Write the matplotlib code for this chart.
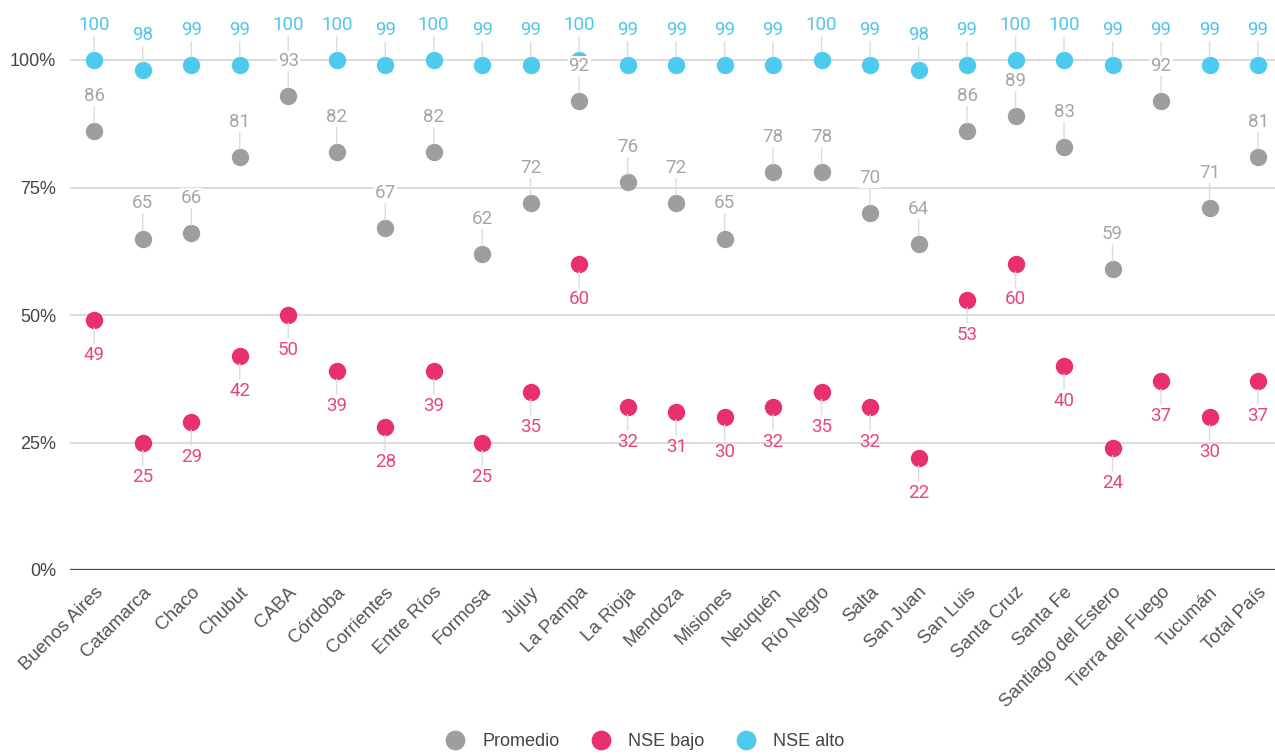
import matplotlib
matplotlib.use('Agg')
import matplotlib.pyplot as plt
from matplotlib.ticker import FuncFormatter

plt.rcParams['font.family'] = ['Liberation Sans', 'DejaVu Sans']

provincias = ['Buenos Aires', 'Catamarca', 'Chaco', 'Chubut', 'CABA', 'Córdoba',
              'Corrientes', 'Entre Ríos', 'Formosa', 'Jujuy', 'La Pampa', 'La Rioja',
              'Mendoza', 'Misiones', 'Neuquén', 'Río Negro', 'Salta', 'San Juan',
              'San Luis', 'Santa Cruz', 'Santa Fe', 'Santiago del Estero',
              'Tierra del Fuego', 'Tucumán', 'Total País']
promedio = [86, 65, 66, 81, 93, 82, 67, 82, 62, 72, 92, 76, 72, 65, 78, 78, 70, 64,
            86, 89, 83, 59, 92, 71, 81]
nse_bajo = [49, 25, 29, 42, 50, 39, 28, 39, 25, 35, 60, 32, 31, 30, 32, 35, 32, 22,
            53, 60, 40, 24, 37, 30, 37]
nse_alto = [100, 98, 99, 99, 100, 100, 99, 100, 99, 99, 100, 99, 99, 99, 99, 100, 99,
            98, 99, 100, 100, 99, 99, 99, 99]
yticks = [0, 25, 50, 75, 100]

c_gris = '#9e9e9e'
c_rosa = '#e8306f'
c_azul = '#4ccbee'

W, H = 1275, 755
fig = plt.figure(figsize=(W / 100, H / 100), dpi=100)
ax = fig.add_axes([70 / W, 1 - 570 / H, 1 - 70 / W, 570 / H])

x = list(range(len(provincias)))
ax.set_xlim(-0.5, len(provincias) - 0.65)
ax.set_ylim(0, 570 / 5.1)

for yt in yticks[1:]:
    ax.axhline(yt, color='#d6d6d6', lw=1.2, zorder=1)
ax.axhline(0, color='#444444', lw=1.6, zorder=2)

ms = 11.5
ax.plot(x, promedio, 'o', color=c_gris, ms=ms, ls='none', zorder=3, label='Promedio')
ax.plot(x, nse_bajo, 'o', color=c_rosa, ms=ms, ls='none', zorder=3, label='NSE bajo')
ax.plot(x, nse_alto, 'o', color=c_azul, ms=ms, ls='none', zorder=3, label='NSE alto')

off = 26 * 72 / 100  # pixels -> points
arrow = dict(arrowstyle='-', color='#dcdcdc', lw=1, shrinkA=0, shrinkB=ms / 2)


def etiquetas(vals, color, arriba, fondo=False):
    for xi, v in zip(x, vals):
        kw = {}
        if fondo:
            kw['bbox'] = dict(boxstyle='square,pad=0.05', fc='white', ec='none')
        ax.annotate(str(v), xy=(xi, v), xytext=(0, off if arriba else -off),
                    textcoords='offset points', ha='center',
                    va='bottom' if arriba else 'top', fontsize=13.5, color=color,
                    family=['Roboto', 'DejaVu Sans'],
                    arrowprops=arrow, zorder=5, **kw)


etiquetas(nse_alto, '#52c6ec', True)
etiquetas(promedio, '#a6a6a6', True, fondo=True)
etiquetas(nse_bajo, '#e8457f', False)

ax.set_yticks(yticks)
ax.yaxis.set_major_formatter(FuncFormatter(lambda v, p: '%d%%' % v))
ax.set_xticks(x)
ax.set_xticklabels(provincias, rotation=45, ha='right', rotation_mode='anchor')
ax.tick_params(axis='both', length=0, colors='#444444')
ax.tick_params(axis='x', pad=10, labelsize=13.5, colors='#555555')
ax.tick_params(axis='y', pad=10, labelsize=13)
for s in ax.spines.values():
    s.set_visible(False)

fig.legend(loc='center', bbox_to_anchor=(641 / W, 1 - 742 / H), ncol=3, frameon=False,
           fontsize=13, handletextpad=0.5, columnspacing=1.3, markerscale=1.15,
           labelcolor='#444444')

fig.savefig('out.png', dpi=100)
